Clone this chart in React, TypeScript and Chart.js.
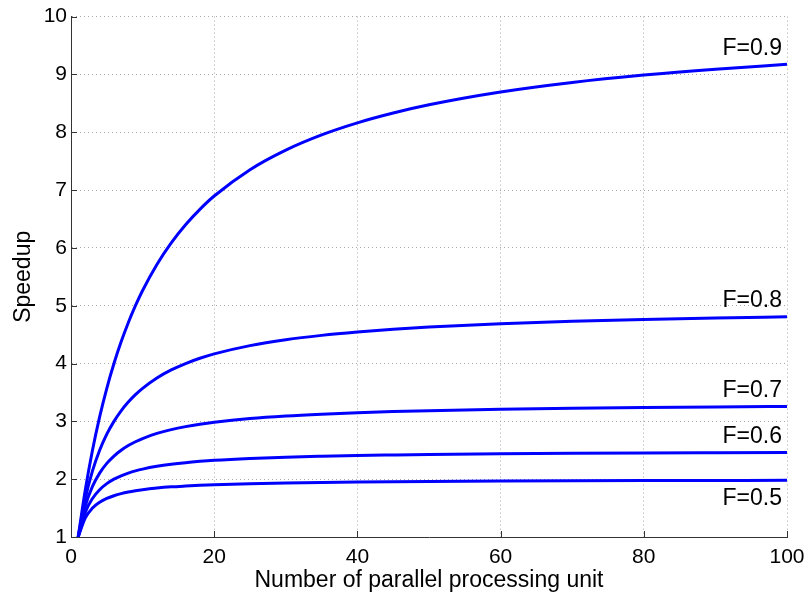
import React, { useEffect, useRef } from "react";
import { Chart, registerables } from "chart.js";

Chart.register(...registerables);

const units = [1, 2, 3, 4, 5, 6, 7, 8, 9, 10, 12, 14, 16, 18, 20, 25, 30, 35, 40, 45, 50, 60, 70, 80, 90, 100];
const speedupF05 = [1, 1.333, 1.5, 1.6, 1.667, 1.714, 1.75, 1.778, 1.8, 1.818, 1.846, 1.867, 1.882, 1.895, 1.905, 1.923, 1.935, 1.944, 1.951, 1.957, 1.961, 1.967, 1.972, 1.975, 1.978, 1.98];
const speedupF06 = [1, 1.429, 1.667, 1.818, 1.923, 2.0, 2.059, 2.105, 2.143, 2.174, 2.222, 2.258, 2.286, 2.308, 2.326, 2.358, 2.381, 2.397, 2.41, 2.419, 2.427, 2.439, 2.448, 2.454, 2.459, 2.463];
const speedupF07 = [1, 1.538, 1.875, 2.105, 2.273, 2.4, 2.5, 2.581, 2.647, 2.703, 2.791, 2.857, 2.909, 2.951, 2.985, 3.049, 3.093, 3.125, 3.15, 3.169, 3.185, 3.209, 3.226, 3.239, 3.249, 3.257];
const speedupF08 = [1, 1.667, 2.143, 2.5, 2.778, 3.0, 3.182, 3.333, 3.462, 3.571, 3.75, 3.889, 4.0, 4.091, 4.167, 4.31, 4.412, 4.487, 4.545, 4.592, 4.63, 4.688, 4.73, 4.762, 4.787, 4.808];
const speedupF09 = [1, 1.818, 2.5, 3.077, 3.571, 4.0, 4.375, 4.706, 5.0, 5.263, 5.714, 6.087, 6.4, 6.667, 6.897, 7.353, 7.692, 7.955, 8.163, 8.333, 8.475, 8.696, 8.861, 8.989, 9.091, 9.174];
const seriesLabels = ["F=0.5", "F=0.6", "F=0.7", "F=0.8", "F=0.9"];
const seriesValues = [speedupF05, speedupF06, speedupF07, speedupF08, speedupF09];
const xTitle = "Number of parallel processing unit";
const yTitle = "Speedup";

const FONT = "'Liberation Sans', Arial, Helvetica, sans-serif";
const TICK_SIZE = 21;
const LABEL_SIZE = 23;

const annotatePlugin = {
  id: "annotate",
  afterDraw(chart: any) {
    const { ctx, chartArea } = chart;
    const xs = chart.scales.x;
    const ys = chart.scales.y;
    ctx.save();
    // inward ticks
    ctx.strokeStyle = "#333";
    ctx.lineWidth = 1;
    ctx.beginPath();
    ys.ticks.forEach((t: any) => {
      const y = Math.round(ys.getPixelForValue(t.value)) + 0.5;
      ctx.moveTo(chartArea.left, y);
      ctx.lineTo(chartArea.left + 6, y);
    });
    xs.ticks.forEach((t: any) => {
      const x = Math.round(xs.getPixelForValue(t.value)) + 0.5;
      ctx.moveTo(x, chartArea.bottom);
      ctx.lineTo(x, chartArea.bottom - 6);
    });
    ctx.stroke();
    // series labels at right end
    ctx.fillStyle = "#000";
    ctx.font = `${LABEL_SIZE}px ${FONT}`;
    ctx.textAlign = "right";
    ctx.textBaseline = "middle";
    seriesLabels.forEach((lab, i) => {
      const vals = seriesValues[i];
      const last = vals[vals.length - 1];
      const px = xs.getPixelForValue(units[units.length - 1]) - 5;
      const py = ys.getPixelForValue(last) + (i === 0 ? 18 : -16);
      ctx.fillText(lab, px, py);
    });
    ctx.restore();
  },
};

export default function App() {
  const ref = useRef<HTMLCanvasElement>(null);
  useEffect(() => {
    document.body.style.margin = "0";
    const canvas = ref.current!;
    const chart = new Chart(canvas, {
      type: "line",
      data: {
        datasets: seriesValues.map((vals, i) => ({
          label: seriesLabels[i],
          data: units.map((n, j) => ({ x: n, y: vals[j] })),
          borderColor: "#0000ff",
          backgroundColor: "#0000ff",
          borderWidth: 3,
          pointRadius: 0,
          cubicInterpolationMode: "monotone" as const,
          fill: false,
        })),
      },
      options: {
        responsive: false,
        animation: false,
        devicePixelRatio: 1,
        layout: { padding: { left: 0, right: 22, top: 16, bottom: 0 } },
        plugins: { legend: { display: false }, tooltip: { enabled: false } },
        scales: {
          x: {
            type: "linear",
            min: 0,
            max: 100,
            afterFit: (s: any) => {
              s.height = 57;
            },
            ticks: {
              stepSize: 20,
              color: "#000",
              font: { family: FONT, size: TICK_SIZE, lineHeight: 1.6 },
              padding: 3,
              maxRotation: 0,
            },
            grid: { color: "#a8a8a8", tickLength: 0, drawTicks: false },
            border: { display: true, color: "#333", width: 1, dash: [1, 3] },
            title: {
              display: true,
              text: xTitle,
              color: "#000",
              font: { family: FONT, size: LABEL_SIZE },
              padding: { top: 0, bottom: 0 },
            },
          },
          y: {
            type: "linear",
            min: 1,
            max: 10,
            afterFit: (s: any) => {
              s.width = 71;
            },
            ticks: { stepSize: 1, color: "#000", font: { family: FONT, size: TICK_SIZE }, padding: 4 },
            grid: { color: "#a8a8a8", tickLength: 0, drawTicks: false },
            border: { display: true, color: "#333", width: 1, dash: [1, 3] },
            title: {
              display: true,
              text: yTitle,
              color: "#000",
              font: { family: FONT, size: LABEL_SIZE },
              padding: { top: 10, bottom: 0 },
            },
          },
        },
      },
      plugins: [annotatePlugin],
    } as any);
    return () => chart.destroy();
  }, []);
  return (
    <div style={{ position: "absolute", left: 0, top: 0, width: 809, height: 594, background: "#fff" }}>
      <canvas ref={ref} width={809} height={594} />
    </div>
  );
}
